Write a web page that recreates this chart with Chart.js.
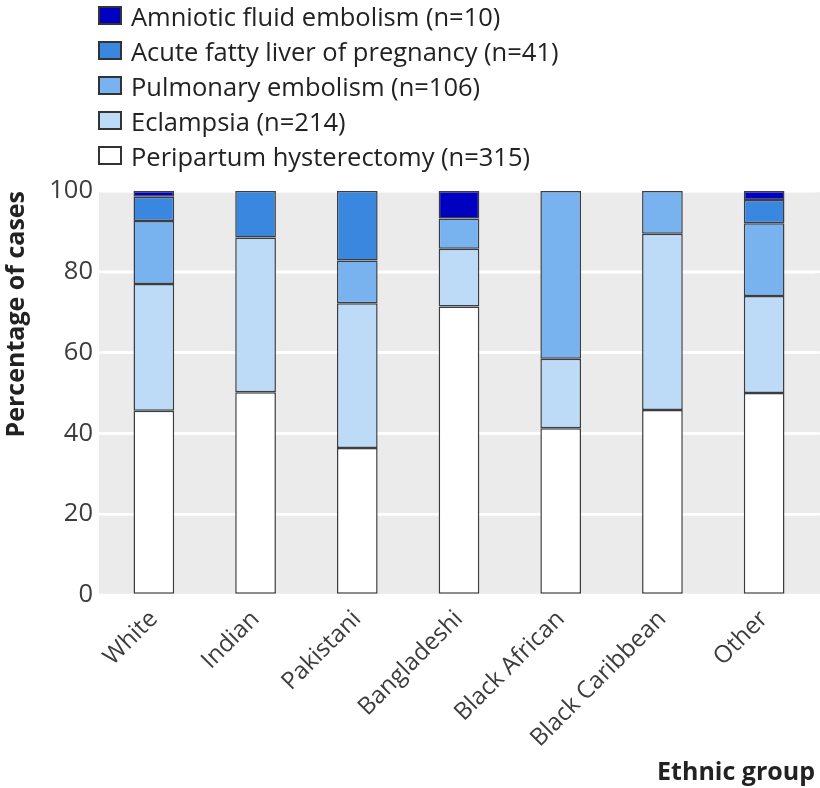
<!DOCTYPE html>
<html>
<head>
<meta charset="utf-8">
<script src="https://cdn.jsdelivr.net/npm/chart.js@4.4.0/dist/chart.umd.min.js"></script>
<style>
  body { margin: 0; background: #fff; }
  #wrap { position: relative; width: 820px; height: 788px; }
  #legend { position: absolute; left: 98px; top: -2px; font-family: "Open Sans", sans-serif; font-size: 25.5px; color: #222; }
  #legend .row { display: flex; align-items: center; height: 35px; }
  #legend .box { width: 20px; height: 15px; border: 2px solid #333; margin-right: 9px; }
</style>
</head>
<body>
<div id="wrap">
  <canvas id="myChart"></canvas>
  <div id="legend"></div>
</div>
<script>
const categories = ['White', 'Indian', 'Pakistani', 'Bangladeshi', 'Black African', 'Black Caribbean', 'Other'];

// percentage of cases per ethnic group, bottom of the stack first
const peripartum = [45.6, 50.2, 36.4, 71.4, 41.3, 45.8, 50.0];
const eclampsia  = [31.4, 38.3, 35.8, 14.3, 17.2, 43.6, 24.0];
const pulmonary  = [15.6, null, 10.6, 7.5, 41.5, 10.6, 18.0];
const acuteFatty = [6.0, 11.5, 17.2, null, null, null, 5.8];
const amniotic   = [1.4, null, null, 6.8, null, null, 2.2];

const yTicks = [0, 20, 40, 60, 80, 100];

const ctx = document.getElementById('myChart').getContext('2d');
Chart.defaults.font.family = '"Open Sans", sans-serif';

// grey panel, a little wider than the bar area, with white lines at the ticks
const panelBg = {
    id: 'panelBg',
    beforeDraw(chart) {
        const a = chart.chartArea;
        const c = chart.ctx;
        const x0 = a.left - 4, x1 = a.right + 5;
        c.save();
        c.fillStyle = '#ebebeb';
        c.fillRect(x0, a.top, x1 - x0, a.bottom - a.top);
        c.strokeStyle = '#ffffff';
        c.lineWidth = 2.5;
        yTicks.forEach(v => {
            const y = chart.scales.y.getPixelForValue(v);
            c.beginPath();
            c.moveTo(x0, y);
            c.lineTo(x1, y);
            c.stroke();
        });
        c.restore();
    }
};

// legend one item per line, above the plot
const htmlLegend = {
    id: 'htmlLegend',
    afterUpdate(chart) {
        const box = document.getElementById('legend');
        box.innerHTML = '';
        const items = chart.options.plugins.legend.labels.generateLabels(chart).reverse();
        items.forEach(item => {
            const row = document.createElement('div');
            row.className = 'row';
            const sw = document.createElement('span');
            sw.className = 'box';
            sw.style.background = item.fillStyle;
            const txt = document.createElement('span');
            txt.textContent = item.text;
            row.appendChild(sw);
            row.appendChild(txt);
            box.appendChild(row);
        });
    }
};

function ds(label, data, color) {
    return {
        label: label,
        data: data,
        backgroundColor: color,
        borderColor: '#3a3d42',
        borderWidth: 1.5,
        borderSkipped: false,
        barPercentage: 0.4,
        categoryPercentage: 1
    };
}

const myChart = new Chart(ctx, {
    type: 'bar',
    data: {
        labels: categories,
        datasets: [
            ds('Peripartum hysterectomy (n=315)', peripartum, '#ffffff'),
            ds('Eclampsia (n=214)', eclampsia, '#bddbf6'),
            ds('Pulmonary embolism (n=106)', pulmonary, '#78b3f0'),
            ds('Acute fatty liver of pregnancy (n=41)', acuteFatty, '#3a87e0'),
            ds('Amniotic fluid embolism (n=10)', amniotic, '#0000c0')
        ]
    },
    plugins: [panelBg, htmlLegend],
    options: {
        responsive: true,
        maintainAspectRatio: false,
        animation: false,
        layout: { padding: { top: 191, right: 5, left: 0, bottom: 0 } },
        plugins: {
            legend: { display: false },
            tooltip: { enabled: false }
        },
        scales: {
            x: {
                stacked: true,
                grid: { display: false },
                border: { display: false },
                ticks: {
                    autoSkip: false,
                    minRotation: 45,
                    maxRotation: 45,
                    padding: 2,
                    color: '#3c3c3c',
                    font: { size: 24 }
                },
                title: {
                    display: true,
                    text: 'Ethnic group',
                    align: 'end',
                    color: '#222',
                    padding: { top: 0, bottom: 0 },
                    font: { size: 25, weight: 'bold' }
                },
                afterFit: (scale) => { scale.height = 193; }
            },
            y: {
                stacked: true,
                min: 0,
                max: 100,
                afterBuildTicks: (scale) => { scale.ticks = yTicks.map(v => ({ value: v })); },
                grid: { color: '#ffffff', lineWidth: 2.5, drawTicks: false },
                border: { display: false },
                ticks: {
                    padding: 10,
                    color: '#3c3c3c',
                    font: { size: 25.5 }
                },
                title: {
                    display: true,
                    text: 'Percentage of cases',
                    align: 'end',
                    color: '#222',
                    padding: { top: 2, bottom: 0 },
                    font: { size: 25, weight: 'bold' }
                },
                afterFit: (scale) => { scale.width = 103; }
            }
        }
    }
});
</script>
</body>
</html>
